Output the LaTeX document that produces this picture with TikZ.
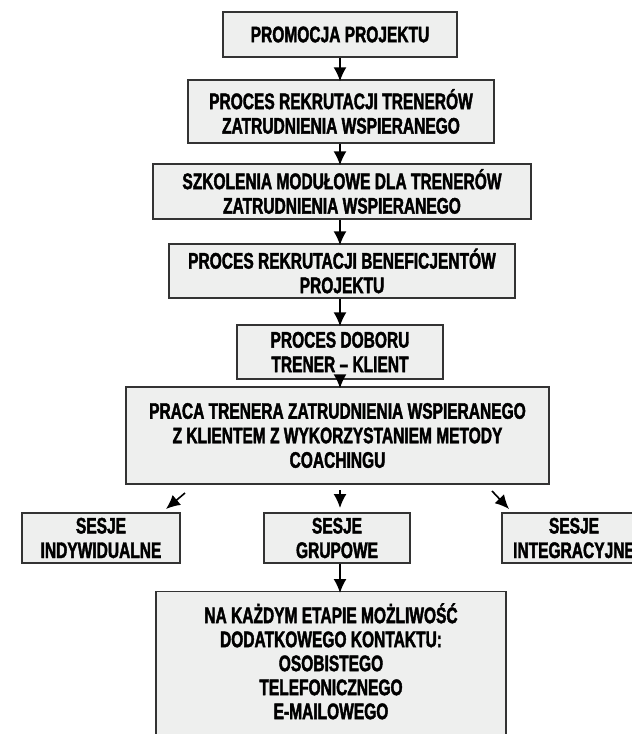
\documentclass[tikz,border=0pt]{standalone}
\usepackage{fontspec}
\setmainfont[FakeStretch=0.69, BoldFeatures={FakeBold=1.8}]{Liberation Sans}
\usetikzlibrary{arrows.meta}
\definecolor{boxfill}{HTML}{EEEFEE}
\definecolor{boxline}{HTML}{333333}
\tikzset{
  flowbox/.style={draw=boxline, line width=1.4pt, fill=boxfill, inner sep=0pt,
    align=center, font=\fontsize{22.5}{24.5}\selectfont\bfseries},
  flowarrow/.style={-{Latex[length=14pt,width=13pt]}, line width=1.6pt, black}
}
\begin{document}
\begin{tikzpicture}[x=1pt,y=-1pt]
\useasboundingbox (0,0) rectangle (632,734);
\clip (0,0) rectangle (632,734);
\node[flowbox, minimum width=234pt, minimum height=45pt] (b1) at (340,34.5) {PROMOCJA PROJEKTU};
\node[flowbox, minimum width=306pt, minimum height=63pt] (b2) at (341,111.5) {PROCES REKRUTACJI TRENERÓW\\ZATRUDNIENIA WSPIERANEGO};
\node[flowbox, minimum width=378pt, minimum height=55pt] (b3) at (342,191.5) {SZKOLENIA MODUŁOWE DLA TRENERÓW\\ZATRUDNIENIA WSPIERANEGO};
\node[flowbox, minimum width=346pt, minimum height=54pt] (b4) at (342,271) {PROCES REKRUTACJI BENEFICJENTÓW\\PROJEKTU};
\node[flowbox, minimum width=206pt, minimum height=54pt] (b5) at (340,352) {PROCES DOBORU\\TRENER – KLIENT};
\node[flowbox, minimum width=423pt, minimum height=97pt] (b6) at (337.5,435.5) {PRACA TRENERA ZATRUDNIENIA WSPIERANEGO\\Z KLIENTEM Z WYKORZYSTANIEM METODY\\COACHINGU};
\node[flowbox, minimum width=158pt, minimum height=50pt] (s1) at (101,538) {SESJE\\INDYWIDUALNE};
\node[flowbox, minimum width=146pt, minimum height=50pt] (s2) at (337,538) {SESJE\\GRUPOWE};
\node[flowbox, minimum width=144pt, minimum height=50pt] (s3) at (574,538) {SESJE\\INTEGRACYJNE};
\node[flowbox, minimum width=350pt, minimum height=170pt, anchor=north] (b7) at (331,591) {};
\node[font=\fontsize{22.5}{24}\selectfont\bfseries, align=center, anchor=north, inner sep=0pt] (t7) at (331,603) {NA KAŻDYM ETAPIE MOŻLIWOŚĆ\\DODATKOWEGO KONTAKTU:\\OSOBISTEGO\\TELEFONICZNEGO\\E-MAILOWEGO};
\draw[flowarrow] (b1.south -| 340,0) -- ([yshift=-2pt]b2.north -| 340,0);
\draw[flowarrow] (b2.south -| 340,0) -- ([yshift=-2pt]b3.north -| 340,0);
\draw[flowarrow] (b3.south -| 340,0) -- ([yshift=-2pt]b4.north -| 340,0);
\draw[flowarrow] (b4.south -| 340,0) -- ([yshift=-2pt]b5.north -| 340,0);
\draw[flowarrow] (b5.south -| 340,0) -- ([yshift=-2pt]b6.north -| 340,0);
\coordinate (l0) at (185,493);
\coordinate (l1) at (166,509);
\coordinate (m0) at (340,490);
\coordinate (m1) at (340,508);
\coordinate (r0) at (492,491);
\coordinate (r1) at (509,509);
\draw[flowarrow] (l0) -- (l1);
\draw[flowarrow] (m0) -- (m1);
\draw[flowarrow] (r0) -- (r1);
\draw[flowarrow] (s2.south -| 340,0) -- ([yshift=-2pt]b7.north -| 340,0);
\end{tikzpicture}
\end{document}
